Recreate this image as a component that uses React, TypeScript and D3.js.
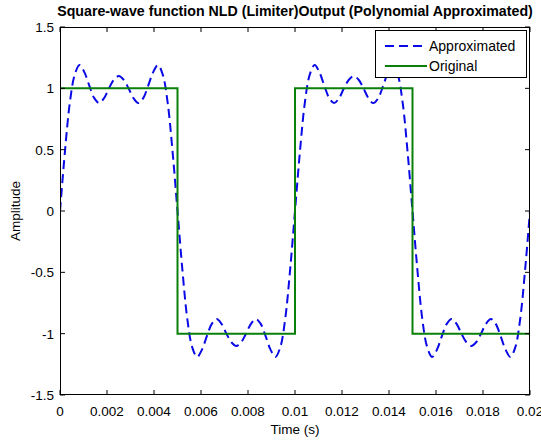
import React from "react";
import * as d3 from "d3";

const W = 541;
const H = 440;

const approxValues: number[] = [
  0, 0.48, 0.88, 1.11, 1.19, 1.13, 1.02, 0.92, 0.88, 0.92, 1.0, 1.07, 1.1, 1.07, 1.0, 0.92, 0.88, 0.92, 1.02, 1.13, 1.19, 1.11, 0.88, 0.48,
  0, -0.48, -0.88, -1.11, -1.19, -1.13, -1.02, -0.92, -0.88, -0.92, -1.0, -1.07, -1.1, -1.07, -1.0, -0.92, -0.88, -0.92, -1.02, -1.13, -1.19, -1.11, -0.88, -0.48,
  0, 0.48, 0.88, 1.11, 1.19, 1.13, 1.02, 0.92, 0.88, 0.92, 1.0, 1.07, 1.1, 1.07, 1.0, 0.92, 0.88, 0.92, 1.02, 1.13, 1.19, 1.11, 0.88, 0.48,
  0, -0.48, -0.88, -1.11, -1.19, -1.13, -1.02, -0.92, -0.88, -0.92, -1.0, -1.07, -1.1, -1.07, -1.0, -0.92, -0.88, -0.92, -1.02, -1.13, -1.19, -1.11, -0.88, -0.48,
  0,
];
const sampleStep = 0.01 / 48;

// Original square wave (step points)
const originalTimes: number[] = [0, 0.005, 0.005, 0.01, 0.01, 0.015, 0.015, 0.02, 0.02];
const originalValues: number[] = [1, 1, -1, -1, 1, 1, -1, -1, 1];

const xTicks: number[] = [0, 0.002, 0.004, 0.006, 0.008, 0.01, 0.012, 0.014, 0.016, 0.018, 0.02];
const xTickLabels: string[] = ["0", "0.002", "0.004", "0.006", "0.008", "0.01", "0.012", "0.014", "0.016", "0.018", "0.02"];
const yTicks: number[] = [-1.5, -1, -0.5, 0, 0.5, 1, 1.5];
const yTickLabels: string[] = ["-1.5", "-1", "-0.5", "0", "0.5", "1", "1.5"];

const legendLabels: string[] = ["Approximated", "Original"];

const FONT = "'Liberation Sans', Arial, Helvetica, sans-serif";
const BLUE = "#0a0ae6";
const GREEN = "#0a800a";

export default function App() {
  const left = 60, right = 530, top = 27, bottom = 395;
  const x = d3.scaleLinear().domain([0, 0.02]).range([left, right]);
  const y = d3.scaleLinear().domain([-1.5, 1.5]).range([bottom, top]);

  const approxPts: [number, number][] = approxValues.map((v, i) => [i * sampleStep, v]);
  const origPts: [number, number][] = originalTimes.map((t, i) => [t, originalValues[i]]);

  const smooth = d3
    .line<[number, number]>()
    .x((d) => x(d[0]))
    .y((d) => y(d[1]))
    .curve(d3.curveCatmullRom.alpha(0.5));
  const straight = d3
    .line<[number, number]>()
    .x((d) => x(d[0]))
    .y((d) => y(d[1]));

  const tickLen = 5;
  const fs = 13.5;

  const legX = 375, legY = 30, legW = 151, legH = 47;

  return (
    <svg
      width={W}
      height={H}
      viewBox={`0 0 ${W} ${H}`}
      style={{ position: "absolute", left: 0, top: 0, background: "#fff" }}
      fontFamily={FONT}
    >
      <rect x={0} y={0} width={W} height={H} fill="#fff" />
      <defs>
        <clipPath id="plotclip">
          <rect x={left} y={top} width={right - left} height={bottom - top} />
        </clipPath>
      </defs>
      <rect x={left} y={top} width={right - left} height={bottom - top} fill="#fff" />

      <g clipPath="url(#plotclip)">
        <path d={smooth(approxPts) || ""} fill="none" stroke={BLUE} strokeWidth={2} strokeDasharray="9,5" />
        <path d={straight(origPts) || ""} fill="none" stroke={GREEN} strokeWidth={2} />
      </g>

      {/* ticks */}
      {xTicks.map((t, i) => (
        <g key={"xt" + i}>
          <line x1={x(t)} x2={x(t)} y1={bottom} y2={bottom - tickLen} stroke="#000" strokeWidth={1} />
          <line x1={x(t)} x2={x(t)} y1={top} y2={top + tickLen} stroke="#000" strokeWidth={1} />
          <text x={x(t)} y={416} fontSize={fs} textAnchor="middle" fill="#000">
            {xTickLabels[i]}
          </text>
        </g>
      ))}
      {yTicks.map((t, i) => (
        <g key={"yt" + i}>
          <line x1={left} x2={left + tickLen} y1={y(t)} y2={y(t)} stroke="#000" strokeWidth={1} />
          <line x1={right} x2={right - tickLen} y1={y(t)} y2={y(t)} stroke="#000" strokeWidth={1} />
          <text x={54} y={y(t) + 5} fontSize={fs} textAnchor="end" fill="#000">
            {yTickLabels[i]}
          </text>
        </g>
      ))}

      {/* axes box */}
      <rect x={left + 0.5} y={top + 0.5} width={right - left - 1} height={bottom - top - 1} fill="none" stroke="#000" strokeWidth={1} />

      {/* legend */}
      <rect x={legX + 0.5} y={legY + 0.5} width={legW} height={legH} fill="#fff" stroke="#000" strokeWidth={1} />
      <line x1={385} x2={427} y1={46} y2={46} stroke={BLUE} strokeWidth={2} strokeDasharray="9,5" />
      <text x={429} y={51} fontSize={14} fill="#000">{legendLabels[0]}</text>
      <line x1={385} x2={427} y1={66} y2={66} stroke={GREEN} strokeWidth={2} />
      <text x={429} y={71} fontSize={14} fill="#000">{legendLabels[1]}</text>

      {/* labels */}
      <text x={295} y={434} fontSize={fs} textAnchor="middle" fill="#000">Time (s)</text>
      <text transform="translate(20,211) rotate(-90)" fontSize={fs} textAnchor="middle" fill="#000">Amplitude</text>
      <text x={295} y={16} fontSize={14.2} fontWeight="bold" textAnchor="middle" fill="#000">
        Square-wave function NLD (Limiter)Output (Polynomial Approximated)
      </text>
    </svg>
  );
}
